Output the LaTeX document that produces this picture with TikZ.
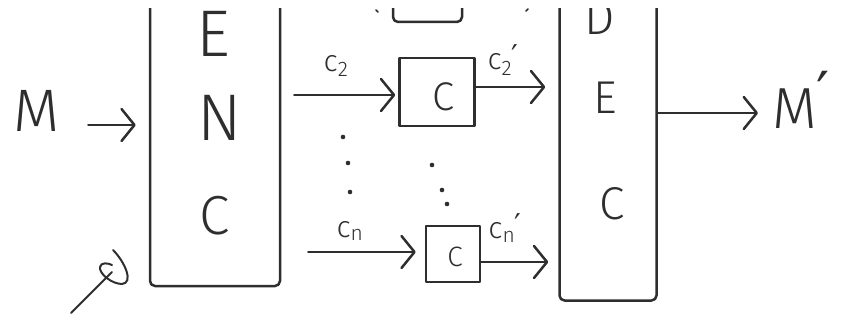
\documentclass[tikz,border=0pt]{standalone}
\usepackage{fontspec}
\setmainfont{Fira Sans Light}
\newfontfamily\primefont{DejaVu Sans}
\usetikzlibrary{arrows.meta}
\definecolor{ink}{HTML}{2E2E2E}
\newcommand\pr{{\primefont ′}}
\newcommand\csub[1]{c\textsubscript{#1}}
\newcommand\cpr[1]{c\textsubscript{#1}\kern-0.02em\raisebox{0.1em}{\pr}}
\begin{document}
\begin{tikzpicture}[x=1pt,y=-1pt,
  ink/.style={draw=ink,line width=2.5pt,line cap=round,line join=round},
  block/.style={ink,rectangle,rounded corners=5pt,inner sep=0pt},
  cipher/.style={ink,rectangle,inner sep=0pt},
  letter/.style={text=ink,inner sep=0pt,font=\fontsize{#1}{#1}\selectfont},
  lbl/.style={text=ink,inner sep=0pt,font=\fontsize{30}{30}\selectfont},
  arr/.style={ink,-{Straight Barb[length=13pt,width=32pt,line width=2.5pt,round]}}
]
\useasboundingbox (0,0) rectangle (842,320);
\clip (0,9) rectangle (842,320);
% blocks
\node[block,minimum width=130pt,minimum height=330pt] (enc) at (215,121) {};
\node[block,minimum width=97pt,minimum height=345pt] (dec) at (608,128) {};
\node[block,minimum width=69pt,minimum height=62pt] (topbox) at (427.5,-9) {};
\node[cipher,minimum width=75pt,minimum height=68pt] (box1) at (437,92) {};
\node[cipher,minimum width=54pt,minimum height=56pt] (box2) at (453,254) {};
% letters
\node[letter=66] (e1) at (213,34) {E};
\node[letter=66] (n1) at (220,118) {N};
\node[letter=55] (c1) at (215,216) {C};
\node[letter=48] (d2) at (600,18) {D};
\node[letter=46] (e2) at (605,98) {E};
\node[letter=46] (c2) at (612,204) {C};
\node[letter=40] (k1) at (443,97) {C};
\node[letter=28] (k2) at (455,257) {C};
\node[letter=60] (M) at (37,111) {M};
\node[letter=58,anchor=west] (Mp) at (772,100) {M\raisebox{0.25em}{\pr}};
% labels
\node[lbl] (l1) at (336,66) {\csub{2}};
\node[lbl] (l2) at (503,60) {\cpr{2}};
\node[lbl] (l3) at (350,231) {\csub{n}};
\node[lbl] (l4) at (505,228) {\cpr{n}};
% connectors
\draw[arr,shorten <=28pt,shorten >=13pt] ([yshift=-14pt]M.east) -- ([yshift=-14pt]M.east -| enc.west);
\draw[arr,shorten <=13pt,shorten >=3pt] ([yshift=-3pt]box1.west -| enc.east) -- ([yshift=-3pt]box1.west);
\draw[arr,shorten >=13pt] ([yshift=5pt]box1.east) -- ([yshift=5pt]box1.east -| dec.west);
\draw[arr,shorten <=27pt,shorten >=9pt] ([yshift=2pt]box2.west -| enc.east) -- ([yshift=2pt]box2.west);
\draw[arr,shorten >=10pt] ([yshift=-8pt]box2.east) -- ([yshift=-8pt]box2.east -| dec.west);
\draw[arr,shorten >=14pt] ([yshift=15pt]dec.east) -- ([yshift=15pt]dec.east -| Mp.west);
% small marks
\draw[ink,line width=1.6pt] (376,10) -- (378,12);
\draw[ink,line width=1.6pt] (526,11) -- (528,9);
\foreach \p in {(343,137),(348,163),(350,192),(432,165),(442,190),(447,204)}
  \fill[ink] \p circle (1.3pt);
% key scribble
\coordinate (kt) at (112,272);
\draw[ink,line width=2pt] (71,313) -- (kt);
\draw[ink,line width=2pt] (113,250) .. controls (125,262) and (134,283) .. (122,284)
  .. controls (112,284) and (99,274) .. (100,267) .. controls (101,262) and (108,263) .. (112,265);
\end{tikzpicture}
\end{document}
